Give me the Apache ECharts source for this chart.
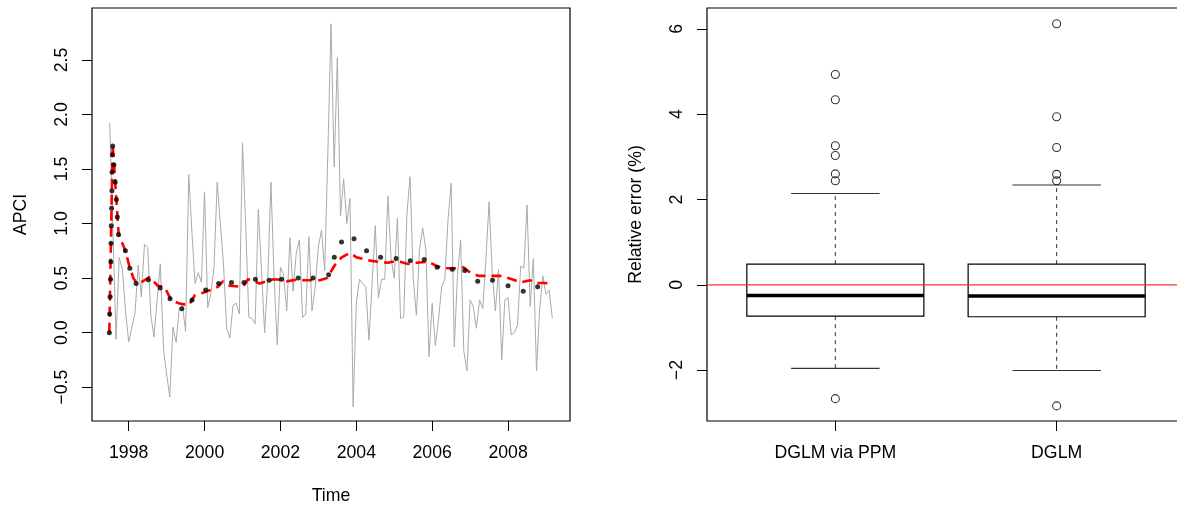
<!DOCTYPE html>
<html>
<head>
<meta charset="utf-8">
<script src="https://cdn.jsdelivr.net/npm/echarts@6/dist/echarts.min.js"></script>
<style>
html,body{margin:0;padding:0;background:#fff;}
#chart{width:1177px;height:506px;}
</style>
</head>
<body>
<div id="chart"></div>
<script>
// ---------- Left panel data ----------
// monthly APCI series, starting mid-1997 (one value per month)
const seriesStart = 1997.5;
const apciMonthly = [
  1.92, 0.95, -0.06, 0.69, 0.58, 0.20, -0.085, 0.05, 0.18, 0.62,
  0.33, 0.81, 0.78, 0.16, -0.04, 0.30, 0.63, -0.15, -0.38, -0.59,
  0.05, -0.09, 0.22, 0.25, 0.01, 1.45, 0.92, 0.45, 0.55, 0.46,
  1.29, 0.23, 0.36, 0.60, 1.38, 1.00, 0.62, 0.04, -0.05, 0.25,
  0.27, 0.17, 1.74, 1.00, 0.14, 0.13, 0.08, 1.13, 0.58, 0.00,
  0.49, 1.38, 0.50, -0.11, 0.60, 0.53, 0.20, 0.87, 0.38, 0.73,
  0.85, 0.14, 0.17, 0.88, 0.20, 0.42, 0.79, 0.94, 0.57, 1.65,
  2.83, 1.52, 2.52, 1.07, 1.41, 1.00, 1.23, -0.68, 0.27, 0.49,
  0.45, 0.42, -0.07, 0.45, 0.98, 0.32, 0.49, 0.49, 1.25, 0.68,
  0.50, 1.05, 0.13, 0.14, 1.08, 1.43, 0.50, 0.16, 0.76, 0.96,
  0.76, -0.22, 0.27, -0.12, 0.12, 0.42, 0.49, 1.03, 1.37, -0.13,
  0.52, 0.85, -0.17, -0.35, 0.30, 0.24, 0.04, 0.30, 0.22, 0.67,
  1.20, 0.55, 0.20, 0.58, -0.25, 0.30, 0.32, -0.02, 0.00, 0.07,
  0.61, 0.59, 1.17, 0.24, 0.68, -0.35, 0.21, 0.52, 0.35, 0.39,
  0.13
];

// fitted trend (red dashed)
const trendTime = [
  1997.490, 1997.577, 1997.736, 1997.913, 1998.018, 1998.124, 1998.196, 1998.370,
  1998.547, 1998.766, 1998.943, 1999.120, 1999.313, 1999.585, 1999.736, 2000.000,
  2000.219, 2000.351, 2000.483, 2000.661, 2001.012, 2001.144, 2001.453, 2001.630,
  2001.804, 2002.026, 2002.159, 2002.423, 2002.597, 2003.038, 2003.231, 2003.435,
  2003.612, 2003.831, 2004.008, 2004.359, 2004.579, 2004.843, 2004.933, 2005.152,
  2005.371, 2005.593, 2005.900, 2006.121, 2006.296, 2006.650, 2006.824, 2007.001,
  2007.220, 2007.530, 2007.794, 2008.103, 2008.322, 2008.586, 2008.719, 2008.938,
  2009.186
];
const trendValue = [
  0.00, 1.73, 0.90, 0.75, 0.61, 0.50, 0.46, 0.47,
  0.51, 0.43, 0.42, 0.30, 0.27, 0.25, 0.34, 0.37,
  0.40, 0.42, 0.47, 0.43, 0.42, 0.49, 0.45, 0.47,
  0.49, 0.485, 0.47, 0.485, 0.48, 0.48, 0.50, 0.62,
  0.69, 0.73, 0.69, 0.66, 0.65, 0.64, 0.65, 0.65,
  0.63, 0.64, 0.65, 0.61, 0.59, 0.59, 0.60, 0.55,
  0.52, 0.52, 0.52, 0.49, 0.46, 0.48, 0.455, 0.455,
  0.45
];

// observed points (black dots)
const dotTime = [
  1997.490, 1997.500, 1997.510, 1997.520, 1997.530, 1997.535, 1997.540, 1997.550,
  1997.558, 1997.562, 1997.570, 1997.578, 1997.610, 1997.645, 1997.675, 1997.700,
  1997.730, 1997.913, 1998.030, 1998.196, 1998.520, 1998.830, 1999.090, 1999.400,
  1999.670, 2000.030, 2000.370, 2000.710, 2001.040, 2001.340, 2001.700, 2002.030,
  2002.470, 2002.860, 2003.270, 2003.420, 2003.610, 2003.940, 2004.270, 2004.640,
  2005.050, 2005.420, 2005.790, 2006.130, 2006.530, 2006.860, 2007.200, 2007.590,
  2008.000, 2008.400, 2008.780
];
const dotValue = [
  0.00, 0.17, 0.33, 0.49, 0.65, 0.82, 0.98, 1.14,
  1.30, 1.47, 1.63, 1.71, 1.54, 1.38, 1.22, 1.06,
  0.90, 0.75, 0.59, 0.45, 0.485, 0.41, 0.31, 0.22,
  0.30, 0.39, 0.45, 0.46, 0.46, 0.49, 0.48, 0.49,
  0.50, 0.50, 0.53, 0.69, 0.83, 0.86, 0.75, 0.69,
  0.68, 0.66, 0.67, 0.60, 0.58, 0.57, 0.47, 0.48,
  0.43, 0.38, 0.42
];
const leftYTicks = [-0.5, 0, 0.5, 1, 1.5, 2, 2.5];
const leftXTicks = [1998, 2000, 2002, 2004, 2006, 2008];

// ---------- Right panel data ----------
const boxNames = ['DGLM via PPM', 'DGLM'];
const whiskerLow = [-1.96, -2.01];
const quart1 = [-0.735, -0.75];
const medians = [-0.25, -0.265];
const quart3 = [0.485, 0.485];
const whiskerHigh = [2.14, 2.34];
const outlierBox = [1, 1, 1, 1, 1, 1, 1, 2, 2, 2, 2, 2, 2];
const outlierValue = [4.93, 4.34, 3.26, 3.03, 2.60, 2.44, -2.67, 6.12, 3.94, 3.22, 2.59, 2.44, -2.84];
const rightYTicks = [-2, 0, 2, 4, 6];
const referenceLevel = 0;

// ---------- build ----------
const FONT = "'Liberation Sans', Arial, Helvetica, sans-serif";
const FS = 17.7;
const minus = s => String(s).replace('-', '\u2212');

const grayData = apciMonthly.map((v, i) => [seriesStart + i / 12, v]);
const trendData = trendTime.map((t, i) => [t, trendValue[i]]);
const dotData = dotTime.map((t, i) => [t, dotValue[i]]);
const boxData = boxNames.map((n, i) => [i + 1, whiskerLow[i], quart1[i], medians[i], quart3[i], whiskerHigh[i]]);
const outData = outlierBox.map((b, i) => [b, outlierValue[i]]);

const BOXHALF = 0.4, CAPHALF = 0.2;
const RX_MIN = 0.42, RX_MAX = 2.58;

function renderBox(params, api) {
  const x = api.value(0);
  const lo = api.value(1), q1 = api.value(2), md = api.value(3), q3 = api.value(4), hi = api.value(5);
  const pL = api.coord([x - BOXHALF, q3]);
  const pR = api.coord([x + BOXHALF, q1]);
  const cx = api.coord([x, 0])[0];
  const yLo = api.coord([x, lo])[1], yHi = api.coord([x, hi])[1];
  const yQ1 = pR[1], yQ3 = pL[1];
  const yMd = api.coord([x, md])[1];
  const cL = api.coord([x - CAPHALF, 0])[0], cR = api.coord([x + CAPHALF, 0])[0];
  const dashed = {stroke: '#333', lineWidth: 1, lineDash: [4, 4], fill: null};
  return {
    type: 'group',
    children: [
      {type: 'line', shape: {x1: cx, y1: yQ3, x2: cx, y2: yHi}, style: dashed},
      {type: 'line', shape: {x1: cx, y1: yQ1, x2: cx, y2: yLo}, style: dashed},
      {type: 'line', shape: {x1: cL, y1: yHi, x2: cR, y2: yHi}, style: {stroke: '#333', lineWidth: 1.2}},
      {type: 'line', shape: {x1: cL, y1: yLo, x2: cR, y2: yLo}, style: {stroke: '#333', lineWidth: 1.2}},
      {type: 'rect', shape: {x: pL[0], y: yQ3, width: pR[0] - pL[0], height: yQ1 - yQ3}, style: {stroke: '#000', lineWidth: 1.2, fill: '#fff'}},
      {type: 'line', shape: {x1: pL[0], y1: yMd, x2: pR[0], y2: yMd}, style: {stroke: '#000', lineWidth: 3.5}}
    ]
  };
}

const axisText = {color: '#000', fontFamily: FONT, fontSize: FS};

const option = {
  animation: false,
  backgroundColor: '#fff',
  textStyle: {fontFamily: FONT},
  grid: [
    {left: 92, top: 8, width: 478, height: 413, show: true, borderColor: '#000', borderWidth: 1.2,
     backgroundColor: 'transparent', containLabel: false, outerBoundsMode: 'none'},
    {left: 707, top: 8, width: 478, height: 413, show: true, borderColor: '#000', borderWidth: 1.2,
     backgroundColor: 'transparent', containLabel: false, outerBoundsMode: 'none'}
  ],
  xAxis: [
    {
      type: 'value', gridIndex: 0, min: 1997.033, max: 2009.633, position: 'bottom',
      name: 'Time', nameLocation: 'middle', nameGap: 66, nameTextStyle: axisText,
      axisLine: {show: false, onZero: false}, splitLine: {show: false},
      axisTick: {show: true, inside: false, length: 10, customValues: leftXTicks, lineStyle: {color: '#000', width: 1}},
      axisLabel: Object.assign({show: true, margin: 23, customValues: leftXTicks, formatter: v => String(Math.round(v))}, axisText)
    },
    {
      type: 'value', gridIndex: 1, min: RX_MIN, max: RX_MAX, position: 'bottom',
      axisLine: {show: false, onZero: false}, splitLine: {show: false},
      axisTick: {show: true, inside: false, length: 10, customValues: [1, 2], lineStyle: {color: '#000', width: 1}},
      axisLabel: Object.assign({show: true, margin: 23, customValues: [1, 2], formatter: v => boxNames[Math.round(v) - 1]}, axisText)
    }
  ],
  yAxis: [
    {
      type: 'value', gridIndex: 0, min: -0.81, max: 2.976, position: 'left',
      name: 'APCI', nameLocation: 'middle', nameGap: 62, nameRotate: 90, nameTextStyle: axisText,
      axisLine: {show: false, onZero: false}, splitLine: {show: false},
      axisTick: {show: true, inside: false, length: 10, customValues: leftYTicks, lineStyle: {color: '#000', width: 1}},
      axisLabel: Object.assign({show: true, rotate: 90, margin: 21, customValues: leftYTicks, formatter: v => minus(v.toFixed(1))}, axisText)
    },
    {
      type: 'value', gridIndex: 1, min: -3.194, max: 6.49, position: 'left',
      name: 'Relative error (%)', nameLocation: 'middle', nameGap: 62, nameRotate: 90, nameTextStyle: axisText,
      axisLine: {show: false, onZero: false}, splitLine: {show: false},
      axisTick: {show: true, inside: false, length: 10, customValues: rightYTicks, lineStyle: {color: '#000', width: 1}},
      axisLabel: Object.assign({show: true, rotate: 90, margin: 21, customValues: rightYTicks, formatter: v => minus(String(Math.round(v)))}, axisText)
    }
  ],
  series: [
    {
      type: 'line', xAxisIndex: 0, yAxisIndex: 0, data: grayData, showSymbol: false, symbol: 'none',
      lineStyle: {color: '#aaaaaa', width: 1}, z: 1
    },
    {
      type: 'line', xAxisIndex: 0, yAxisIndex: 0, data: trendData, showSymbol: false, symbol: 'none',
      lineStyle: {color: '#ff0000', width: 2.6, type: [10, 6]}, z: 2
    },
    {
      type: 'scatter', xAxisIndex: 0, yAxisIndex: 0, data: dotData, symbol: 'circle', symbolSize: 5,
      itemStyle: {color: '#000'}, z: 3
    },
    {
      type: 'custom', xAxisIndex: 1, yAxisIndex: 1, data: boxData, renderItem: renderBox, z: 2
    },
    {
      type: 'scatter', xAxisIndex: 1, yAxisIndex: 1, data: outData, symbol: 'circle', symbolSize: 8,
      itemStyle: {color: 'rgba(255,255,255,0)', borderColor: '#000', borderWidth: 1.1}, z: 3
    },
    {
      type: 'line', xAxisIndex: 1, yAxisIndex: 1,
      data: [[RX_MIN, referenceLevel], [RX_MAX, referenceLevel]],
      showSymbol: false, symbol: 'none', silent: true,
      lineStyle: {color: '#ff3030', width: 1.2, type: 'solid'}, z: 5
    }
  ]
};

const chart = echarts.init(document.getElementById('chart'), null, {renderer: 'canvas'});
chart.setOption(option);
</script>
</body>
</html>
